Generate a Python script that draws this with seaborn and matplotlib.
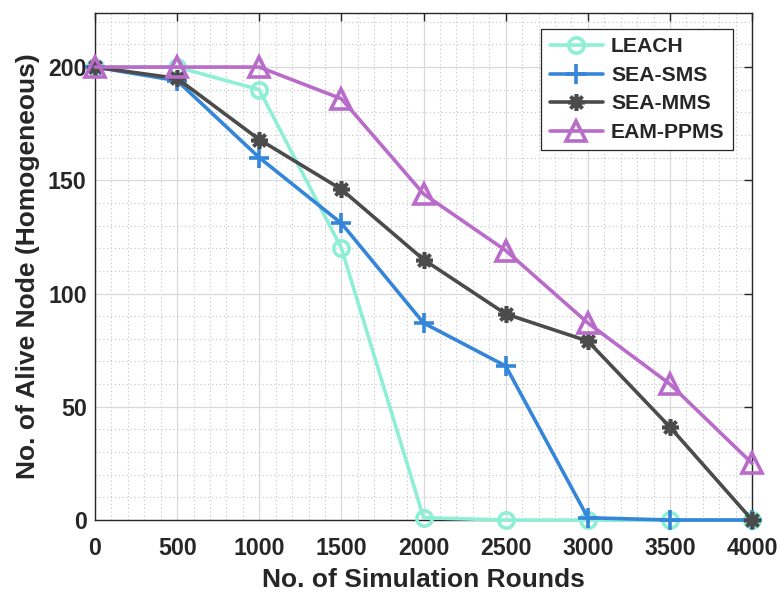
import numpy as np
import pandas as pd
import matplotlib
matplotlib.use("Agg")
import matplotlib.pyplot as plt
import seaborn as sns
from matplotlib.ticker import MultipleLocator

rounds = [0, 500, 1000, 1500, 2000, 2500, 3000, 3500, 4000]
leach = [200, 200, 190, 120, 1, 0, 0, 0, 0]
sea_sms = [200, 194, 160, 131, 87, 68, 1, 0, 0]
sea_mms = [200, 195, 168, 146, 115, 91, 79, 41, 0]
eam_ppms = [200, 200, 200, 186, 144, 119, 87, 60, 25]
series_names = ["LEACH", "SEA-SMS", "SEA-MMS", "EAM-PPMS"]
series_values = [leach, sea_sms, sea_mms, eam_ppms]

colors = ["#8EEED6", "#3585D9", "#4B4B4B", "#B96BC9"]
markers = ["o", "+", (8, 2, 0), "^"]
msizes = [11, 14, 12, 14]

sns.set_style("white")
plt.rcParams['font.family'] = ['Liberation Sans', 'DejaVu Sans']
plt.rcParams['font.weight'] = 'bold'

fig = plt.figure(figsize=(7.77, 5.92), dpi=100)
ax = fig.add_axes([0.1223, 0.1216, 0.968 - 0.1223, 0.9785 - 0.1216])

for name, vals, c, m, ms in zip(series_names, series_values, colors, markers, msizes):
    df = pd.DataFrame({"x": rounds, "y": vals})
    filled = m in [(8, 2, 0)]
    sns.lineplot(data=df, x="x", y="y", ax=ax, color=c, linewidth=2.6,
                 marker=m, markersize=ms, markeredgewidth=2.6,
                 markerfacecolor=(c if filled else "none"), markeredgecolor=c,
                 label=name, clip_on=False, zorder=3)

ax.set_xlim(0, 4000)
ax.set_ylim(0, 224)
ax.set_xticks(rounds)
ax.set_yticks([0, 50, 100, 150, 200])
ax.xaxis.set_minor_locator(MultipleLocator(100))
ax.yaxis.set_minor_locator(MultipleLocator(10))
ax.grid(True, which="major", color="#d9d9d9", linewidth=0.9, linestyle="-")
ax.grid(True, which="minor", color="#c4c4c4", linewidth=0.8, linestyle=(0, (1, 2.5)))
ax.set_axisbelow(True)

ax.tick_params(axis="x", which="major", pad=12)
ax.tick_params(axis="y", which="major", pad=6)
ax.tick_params(axis="both", which="major", direction="in", length=6, width=1,
               labelsize=16.7, top=True, right=True, colors="#262626")
ax.tick_params(axis="both", which="minor", length=0)
for lbl in ax.get_xticklabels() + ax.get_yticklabels():
    lbl.set_fontweight("bold")
for sp in ax.spines.values():
    sp.set_color("#262626")
    sp.set_linewidth(1.0)

ax.set_xlabel("No. of Simulation Rounds", fontsize=19, fontweight="bold", color="#262626", labelpad=6)
ax.set_ylabel("No. of Alive Node (Homogeneous)", fontsize=19, fontweight="bold", color="#262626", labelpad=6)

leg = ax.legend(loc="upper right", bbox_to_anchor=(0.971, 0.968), borderaxespad=0,
                fontsize=15.2,
                frameon=True, fancybox=False, edgecolor="#262626", framealpha=1,
                handlelength=2.5, borderpad=0.4, labelspacing=0.45, handletextpad=0.4)
leg.get_frame().set_linewidth(0.9)
for t in leg.get_texts():
    t.set_fontweight("bold")

fig.savefig("out.png", dpi=100)
